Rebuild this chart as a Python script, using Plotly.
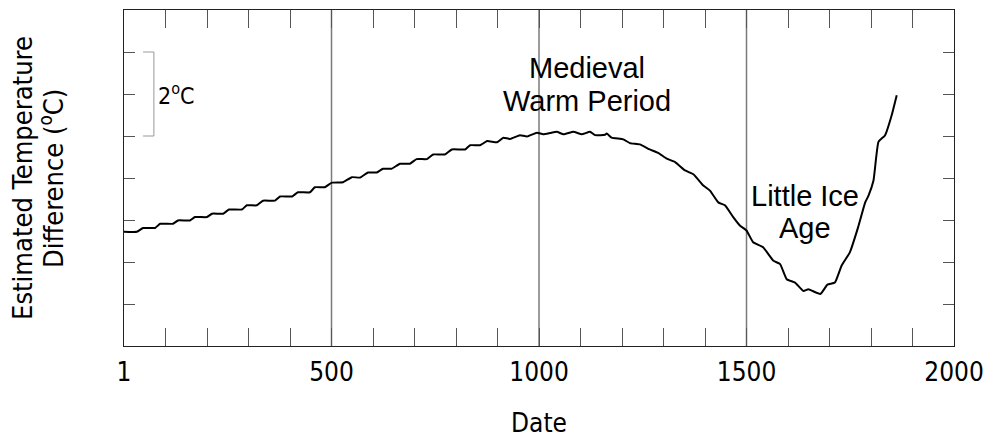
import plotly.graph_objects as go

# ---- data ----
years = [0, 31, 46, 75, 87, 118, 130, 159, 171, 200, 212, 239, 253, 284, 296, 320, 335, 364,
         376, 405, 419, 448, 460, 484, 501,
         528, 549, 569, 588, 609, 624, 645, 665, 689, 705, 730, 745, 773, 790, 822, 834, 858,
         875, 899, 914, 930, 954, 971, 995, 1010, 1027,
         1043, 1059, 1083, 1103, 1123, 1135, 1159, 1163, 1175, 1203, 1219, 1243, 1267, 1287,
         1308, 1328, 1352, 1372, 1396, 1412, 1432, 1448, 1468, 1484, 1500,
         1516, 1540, 1565, 1581, 1597, 1617, 1637, 1649, 1678, 1695, 1713, 1729, 1749, 1769,
         1786, 1794, 1806, 1818, 1834, 1850, 1862]
temps = [2.72, 2.72, 2.81, 2.81, 2.91, 2.91, 2.99, 2.99, 3.07, 3.07, 3.15, 3.15, 3.25, 3.25,
         3.35, 3.35, 3.46, 3.46, 3.56, 3.56, 3.66, 3.66, 3.78, 3.78, 3.89,
         3.90, 4.02, 4.01, 4.13, 4.13, 4.22, 4.22, 4.34, 4.34, 4.45, 4.45, 4.56, 4.56, 4.68,
         4.68, 4.78, 4.78, 4.88, 4.85, 4.96, 4.93, 5.02, 4.99, 5.08, 5.04, 5.07,
         5.10, 5.04, 5.10, 5.04, 5.10, 5.02, 5.03, 5.06, 4.96, 4.92, 4.83, 4.80, 4.68, 4.60,
         4.46, 4.38, 4.18, 4.09, 3.82, 3.70, 3.42, 3.35, 3.07, 2.87, 2.75,
         2.47, 2.35, 2.03, 1.95, 1.59, 1.51, 1.31, 1.35, 1.24, 1.46, 1.51, 1.91, 2.23, 2.83,
         3.42, 3.58, 3.94, 4.86, 5.02, 5.50, 5.97]

x_ticks = list(range(0, 2001, 100))
x_labels = {0: "1", 500: "500", 1000: "1000", 1500: "1500", 2000: "2000"}
y_ticks = list(range(0, 9))
era_lines = [500, 1000, 1500]
scale_bar_years = [46, 72]
scale_bar_temps = [5, 7]

label_lines = [
    (1116, 6.62, "Medieval"),
    (1116, 5.83, "Warm Period"),
    (1641, 3.57, "Little Ice"),
    (1641, 2.80, "Age"),
]
y_title_lines = [
    (-0.123, "Estimated Temperature"),
    (-0.088, "Difference (<sup>o</sup>C)"),
]

TICK_FONT = "DejaVu Sans Condensed, DejaVu Sans, sans-serif"
ANN_FONT = "Liberation Sans, Arial, sans-serif"

fig = go.Figure()
fig.add_trace(go.Scatter(
    x=years, y=temps, mode="lines",
    line=dict(color="black", width=2, shape="spline", smoothing=0.4),
    hoverinfo="skip", showlegend=False,
))

shapes = []
for yr in era_lines:
    shapes.append(dict(type="line", xref="x", yref="paper", x0=yr, x1=yr, y0=0, y1=1,
                       line=dict(color="#7a7a7a", width=1.5), layer="below"))
sx0, sx1 = scale_bar_years
sy0, sy1 = scale_bar_temps
shapes.append(dict(type="path", xref="x", yref="y",
                   path=f"M {sx0},{sy1} L {sx1},{sy1} L {sx1},{sy0} L {sx0},{sy0}",
                   line=dict(color="#999999", width=1)))

anns = []
for ax_, ay_, txt in label_lines:
    anns.append(dict(x=ax_, y=ay_, xref="x", yref="y", text=txt, showarrow=False,
                     font=dict(family=ANN_FONT, size=29, color="black"),
                     xanchor="center", yanchor="middle"))
anns.append(dict(x=sx1 + 6, y=(sy0 + sy1) / 2, xref="x", yref="y",
                 text="2<sup>o</sup>C", showarrow=False,
                 font=dict(family=TICK_FONT, size=23, color="black"),
                 xanchor="left", yanchor="middle"))
for px, txt in y_title_lines:
    anns.append(dict(x=px, y=0.5, xref="paper", yref="paper", text=txt,
                     showarrow=False, textangle=-90,
                     font=dict(family=TICK_FONT, size=27, color="black"),
                     xanchor="center", yanchor="middle"))

fig.update_layout(
    width=984, height=439,
    margin=dict(l=124, r=30, t=10, b=93, autoexpand=False),
    paper_bgcolor="white", plot_bgcolor="white",
    shapes=shapes, annotations=anns,
    xaxis=dict(
        range=[0, 2000], tickmode="array", tickvals=x_ticks,
        ticktext=[x_labels.get(v, "") for v in x_ticks],
        ticks="inside", ticklen=18, tickcolor="#555555", tickwidth=1,
        showline=True, linecolor="#222222", linewidth=1, mirror="ticks",
        showgrid=False, zeroline=False, ticklabeloverflow="allow",
        ticklabelstandoff=3, automargin=False,
        tickfont=dict(family=TICK_FONT, size=26, color="black"),
        title=dict(text="Date", font=dict(family=TICK_FONT, size=26, color="black"),
                   standoff=27),
    ),
    yaxis=dict(
        range=[0, 8], tickmode="array", tickvals=y_ticks, showticklabels=False,
        ticks="inside", ticklen=11, tickcolor="#555555", tickwidth=1,
        showline=True, linecolor="#222222", linewidth=1, mirror="ticks",
        showgrid=False, zeroline=False, automargin=False,
    ),
)

fig.write_html("out.html", config={"displayModeBar": False},
               post_script="document.body.style.margin='0';document.body.style.padding='0';")
